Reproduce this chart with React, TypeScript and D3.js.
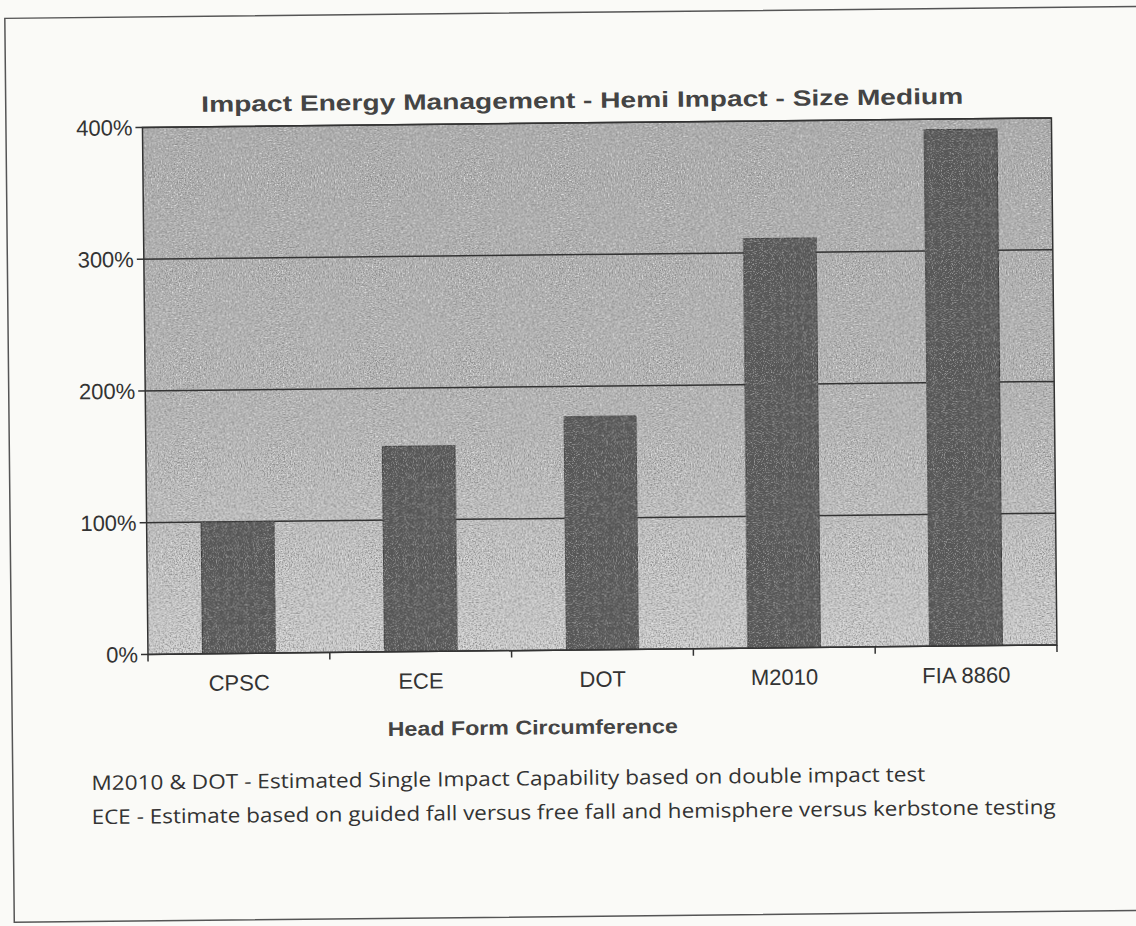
import React from "react";
import * as d3 from "d3";

const categories = ["CPSC", "ECE", "DOT", "M2010", "FIA 8860"];
const values = [100, 156, 177, 311, 392];
const yTicks = [0, 100, 200, 300, 400];
const title = "Impact Energy Management - Hemi Impact - Size Medium";
const xTitle = "Head Form Circumference";
const notes = [
  "M2010 & DOT - Estimated Single Impact Capability based on double impact test",
  "ECE - Estimate based on guided fall versus free fall and hemisphere versus kerbstone testing",
];

const W = 1136;
const H = 926;
const m = { left: 146, top: 123, right: 1055, bottom: 650 };

export default function App() {
  const x = d3
    .scaleBand()
    .domain(categories)
    .range([m.left, m.right])
    .paddingInner(0.6)
    .paddingOuter(0.3);
  const y = d3.scaleLinear().domain([0, 400]).range([m.bottom, m.top]);
  const step = x.step();
  // category boundaries for the small tick marks under the axis
  const bounds = categories.map((c) => (x(c) as number) - (step - x.bandwidth()) / 2);
  bounds.push(m.right);

  return (
    <svg
      width={W}
      height={H}
      style={{ position: "absolute", left: 0, top: 0, background: "#fafaf7" }}
    >
      <defs>
        <linearGradient id="bg" x1="0" y1="0" x2="0" y2="1">
          <stop offset="0" stopColor="#b4b4b4" />
          <stop offset="0.55" stopColor="#bdbdbd" />
          <stop offset="1" stopColor="#d4d4d4" />
        </linearGradient>
        <filter id="grain" x="0" y="0" width="100%" height="100%">
          <feTurbulence type="fractalNoise" baseFrequency="0.7" numOctaves="2" seed="4" result="t" />
          <feColorMatrix
            in="t"
            type="matrix"
            values="0 0 0 0 0.25  0 0 0 0 0.25  0 0 0 0 0.25  3 0 0 0 -1.3"
            result="n"
          />
          <feColorMatrix
            in="t"
            type="matrix"
            values="0 0 0 0 0.95  0 0 0 0 0.95  0 0 0 0 0.95  -3 0 0 0 1.15"
            result="w"
          />
          <feComposite in="n" in2="SourceGraphic" operator="in" result="nc" />
          <feComposite in="w" in2="SourceGraphic" operator="in" result="wc" />
          <feMerge>
            <feMergeNode in="SourceGraphic" />
            <feMergeNode in="nc" />
            <feMergeNode in="wc" />
          </feMerge>
        </filter>
        <filter id="grainLight" x="0" y="0" width="100%" height="100%">
          <feTurbulence type="fractalNoise" baseFrequency="0.9" numOctaves="2" seed="9" result="t" />
          <feColorMatrix
            in="t"
            type="matrix"
            values="0 0 0 0 0.55  0 0 0 0 0.55  0 0 0 0 0.55  2 0 0 0 -1.05"
            result="n"
          />
          <feComposite in="n" in2="SourceGraphic" operator="in" result="nc" />
          <feMerge>
            <feMergeNode in="SourceGraphic" />
            <feMergeNode in="nc" />
          </feMerge>
        </filter>
      </defs>
      <g transform={`rotate(-0.6, ${W / 2}, ${H / 2})`}>
        {/* page frame */}
        <rect x={9.5} y={12.5} width={1140} height={904} fill="none" stroke="#555" strokeWidth={1.5} />

        <text
          x={586}
          y={108}
          textAnchor="middle"
          fontFamily="Liberation Sans, Arial, sans-serif"
          fontWeight="bold"
          fontSize={22}
          fill="#444"
          textLength={762}
          lengthAdjust="spacingAndGlyphs"
        >
          {title}
        </text>

        {/* plot area */}
        <rect
          x={m.left}
          y={m.top}
          width={m.right - m.left}
          height={m.bottom - m.top}
          fill="url(#bg)"
          filter="url(#grain)"
        />

        {yTicks.map((t) => (
          <line
            key={"g" + t}
            x1={m.left - 7}
            x2={m.right}
            y1={y(t)}
            y2={y(t)}
            stroke="#333"
            strokeWidth={1.5}
          />
        ))}

        {categories.map((c, i) => (
          <rect
            key={c}
            x={x(c)}
            y={y(values[i])}
            width={x.bandwidth()}
            height={y(0) - y(values[i])}
            fill="#575757"
            stroke="#3a3a3a"
            strokeWidth={1}
            filter="url(#grainLight)"
          />
        ))}

        <rect
          x={m.left}
          y={m.top}
          width={m.right - m.left}
          height={m.bottom - m.top}
          fill="none"
          stroke="#333"
          strokeWidth={1.5}
        />

        {bounds.map((b, i) => (
          <line key={"t" + i} x1={b} x2={b} y1={m.bottom} y2={m.bottom + 7} stroke="#333" strokeWidth={1.5} />
        ))}

        {yTicks.map((t) => (
          <text
            key={"l" + t}
            x={m.left - 10}
            y={y(t)}
            dy="0.35em"
            textAnchor="end"
            fontFamily="Liberation Sans, Arial, sans-serif"
            fontSize={22}
            fill="#333"
          >
            {t + "%"}
          </text>
        ))}

        {categories.map((c) => (
          <text
            key={"c" + c}
            x={(x(c) as number) + x.bandwidth() / 2}
            y={m.bottom + 37}
            textAnchor="middle"
            fontFamily="Liberation Sans, Arial, sans-serif"
            fontSize={22}
            fill="#333"
          >
            {c}
          </text>
        ))}

        <text
          x={530}
          y={734}
          textAnchor="middle"
          fontFamily="Liberation Sans, Arial, sans-serif"
          fontWeight="bold"
          fontSize={20}
          fill="#444"
          textLength={290}
          lengthAdjust="spacingAndGlyphs"
        >
          {xTitle}
        </text>

        {notes.map((n, i) => (
          <text
            key={"n" + i}
            x={88}
            y={785 + i * 34}
            fontFamily="Liberation Sans Narrow, Open Sans, sans-serif"
            fontSize={20}
            fill="#333"
            textLength={i === 0 ? 834 : 964}
            lengthAdjust="spacingAndGlyphs"
          >
            {n}
          </text>
        ))}
      </g>
    </svg>
  );
}
